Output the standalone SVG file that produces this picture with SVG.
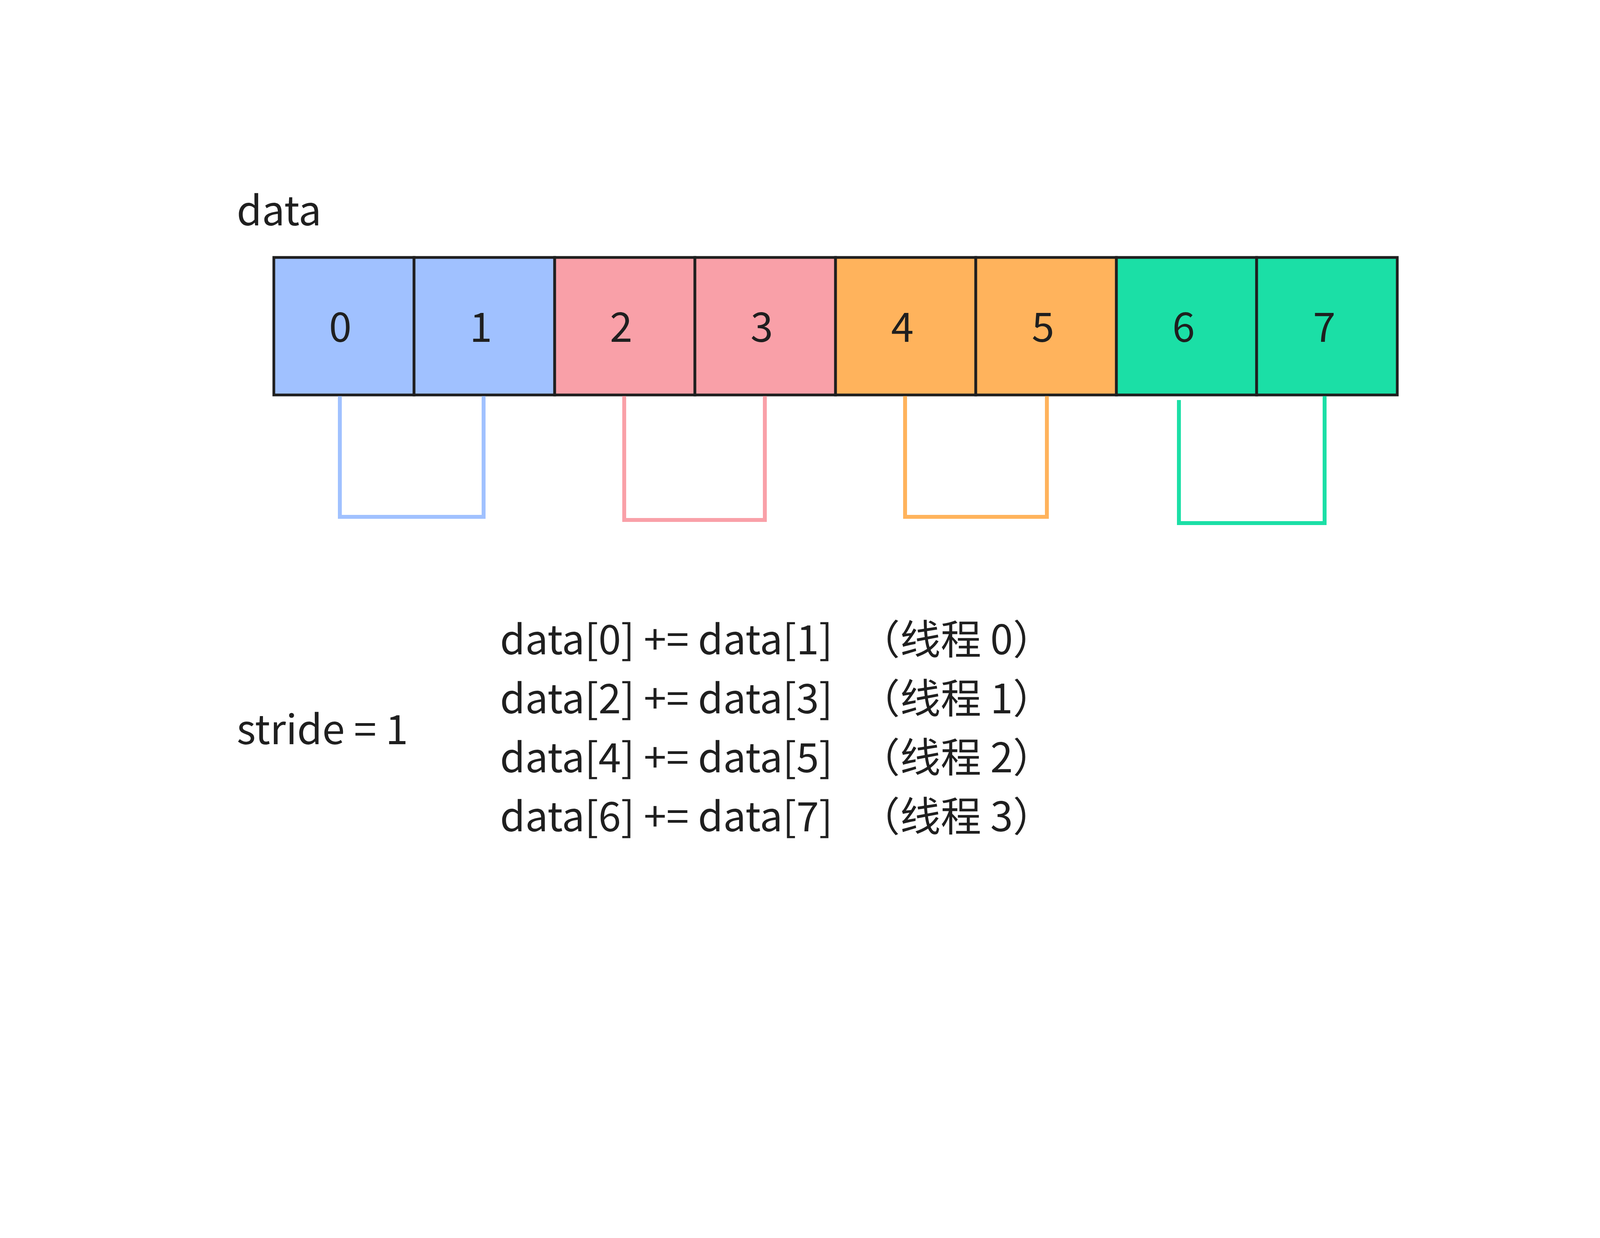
<svg xmlns="http://www.w3.org/2000/svg" width="4148" height="3169" viewBox="0 0 4148 3169">
<style>
text{font-family:"Noto Sans CJK SC","Noto Sans",sans-serif;font-size:104px;fill:#1f1f1f}
.c{stroke:#1f1f1f;stroke-width:7}
.n{text-anchor:middle}
.b{fill:none;stroke-width:10}
</style>
<rect width="4148" height="3169" fill="#fff"/>
<text x="606" y="577">data</text>
<g id="cells">
<g id="c0"><rect class="c" x="701" y="659" width="359" height="352" fill="#a0c1ff"/><text class="n" x="871" y="875">0</text></g>
<g id="c1"><rect class="c" x="1060" y="659" width="360" height="352" fill="#a0c1ff"/><text class="n" x="1231" y="875">1</text></g>
<g id="c2"><rect class="c" x="1420" y="659" width="359" height="352" fill="#f9a0a8"/><text class="n" x="1590" y="875">2</text></g>
<g id="c3"><rect class="c" x="1779" y="659" width="360" height="352" fill="#f9a0a8"/><text class="n" x="1950" y="875">3</text></g>
<g id="c4"><rect class="c" x="2139" y="659" width="359" height="352" fill="#ffb35c"/><text class="n" x="2310" y="875">4</text></g>
<g id="c5"><rect class="c" x="2498" y="659" width="360" height="352" fill="#ffb35c"/><text class="n" x="2670" y="875">5</text></g>
<g id="c6"><rect class="c" x="2858" y="659" width="359" height="352" fill="#1bdfa6"/><text class="n" x="3030" y="875">6</text></g>
<g id="c7"><rect class="c" x="3217" y="659" width="360" height="352" fill="#1bdfa6"/><text class="n" x="3390" y="875">7</text></g>
</g>
<g id="connectors">
<polyline class="b" stroke="#a0c1ff" points="870,1014 870,1323 1238,1323 1238,1014"/>
<polyline class="b" stroke="#f9a0a8" points="1598,1014 1598,1331 1958,1331 1958,1014"/>
<polyline class="b" stroke="#ffb35c" points="2317,1014 2317,1323 2680,1323 2680,1014"/>
<polyline class="b" stroke="#1bdfa6" points="3018,1024 3018,1339 3391,1339 3391,1014"/>
</g>
<text x="606" y="1905">stride = 1</text>
<g id="lines">
<text x="1280" y="1675">data[0] += data[1]</text><text x="2200" y="1675">（线程 0）</text>
<text x="1280" y="1826">data[2] += data[3]</text><text x="2200" y="1826">（线程 1）</text>
<text x="1280" y="1977">data[4] += data[5]</text><text x="2200" y="1977">（线程 2）</text>
<text x="1280" y="2128">data[6] += data[7]</text><text x="2200" y="2128">（线程 3）</text>
</g>
</svg>
